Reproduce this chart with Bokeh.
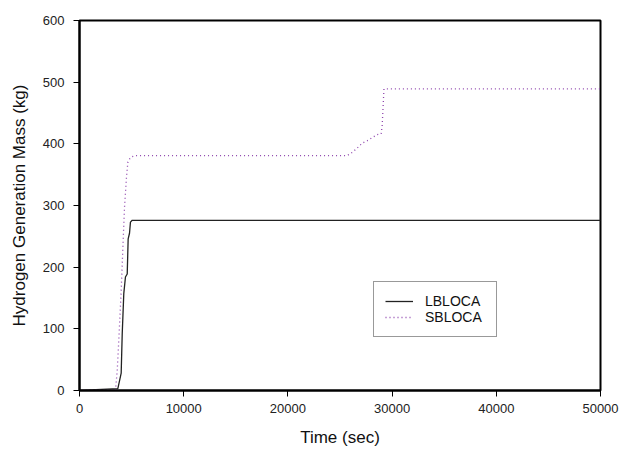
from bokeh.plotting import figure
from bokeh.models import Range1d, Legend, LegendItem, FixedTicker
from bokeh.embed import file_html
from bokeh.resources import INLINE

# Data
t_lbloca = [0, 3680, 4000, 4100, 4250, 4410, 4580, 4670, 4800, 4890, 5060, 50000]
m_lbloca = [0, 3, 28, 92, 157, 184, 189, 246, 255, 273, 276, 276]

t_sbloca = [0, 3450, 3620, 3770, 4000, 4190, 4320, 4510, 4640, 4890, 5370,
            25690, 26170, 26650, 27130, 27610, 28090, 28570, 28950, 29050,
            29150, 29220, 50000]
m_sbloca = [0, 0, 32, 81, 162, 243, 297, 346, 370, 378, 381,
            381, 386, 393, 401, 405, 410, 415, 416, 430,
            465, 489, 489]

x_ticks = [0, 10000, 20000, 30000, 40000, 50000]
y_ticks = [0, 100, 200, 300, 400, 500, 600]

FONT = "Liberation Sans"

p = figure(width=620, height=450, output_backend="svg", toolbar_location=None,
           x_range=Range1d(0, 50000), y_range=Range1d(0, 600),
           min_border_left=79, min_border_right=20, min_border_top=20,
           min_border_bottom=60)

p.xgrid.visible = False
p.ygrid.visible = False
p.outline_line_color = "black"
p.outline_line_width = 2
p.background_fill_color = "white"
p.border_fill_color = "white"

for ax, ticks in ((p.xaxis[0], x_ticks), (p.yaxis[0], y_ticks)):
    ax.ticker = FixedTicker(ticks=ticks)
    ax.minor_tick_line_color = None
    ax.major_tick_out = 6
    ax.major_tick_in = 0
    ax.major_tick_line_color = "black"
    ax.major_tick_line_width = 1
    ax.axis_line_color = "black"
    ax.axis_line_width = 2
    ax.major_label_text_font = FONT
    ax.major_label_text_font_size = "13px"
    ax.major_label_text_color = "#222222"
    ax.axis_label_text_font = FONT
    ax.axis_label_text_font_size = "17px"
    ax.axis_label_text_font_style = "normal"
    ax.axis_label_text_color = "#111111"

p.xaxis.axis_label = "Time (sec)"
p.yaxis.axis_label = "Hydrogen Generation Mass (kg)"
p.xaxis.major_label_standoff = 7
p.yaxis.major_label_standoff = 9
p.xaxis.axis_label_standoff = 12
p.yaxis.axis_label_standoff = 11

r1 = p.line(t_lbloca, m_lbloca, line_color="#222222", line_width=1.3)
r2 = p.line(t_sbloca, m_sbloca, line_color="#8e44ad", line_width=1.3,
            line_dash="1 3")

legend = Legend(items=[LegendItem(label="LBLOCA", renderers=[r1]),
                       LegendItem(label="SBLOCA", renderers=[r2])],
                location=(294, 53), orientation="vertical")
legend.label_text_font = FONT
legend.label_text_font_size = "14px"
legend.label_text_color = "#111111"
legend.glyph_width = 28
legend.glyph_height = 14
legend.label_height = 14
legend.label_width = 60
legend.label_standoff = 12
legend.padding = 11
legend.spacing = 0
legend.margin = 0
legend.border_line_color = "#333333"
legend.border_line_width = 1.5
legend.background_fill_alpha = 1
p.add_layout(legend, "center")

open("out.html", "w").write(file_html(p, INLINE))
